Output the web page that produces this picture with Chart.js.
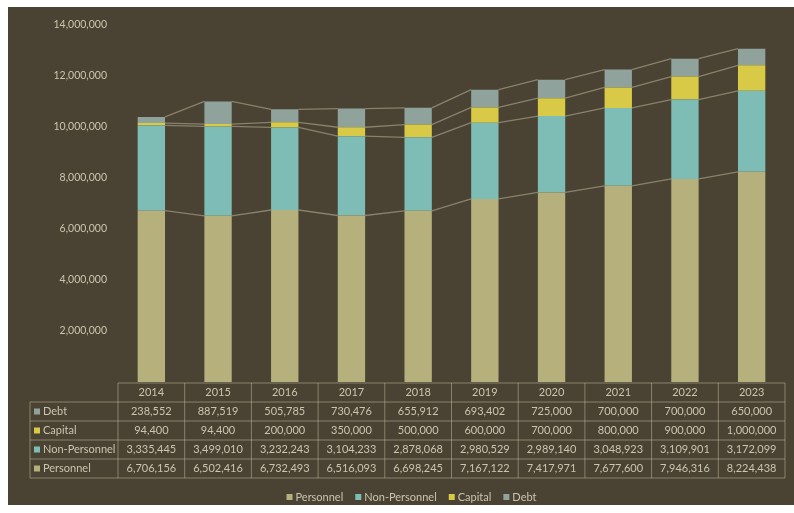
<!DOCTYPE html>
<html lang="en">
<head>
<meta charset="UTF-8">
<title>Budget</title>
<script src="https://cdn.jsdelivr.net/npm/chart.js"></script>
<style>
  html, body { margin: 0; padding: 0; background: #ffffff; }
  .quadro {
    position: absolute; left: 8px; top: 7px; width: 786px; height: 498px;
    background: #4a4333;
  }
</style>
</head>
<body>
<div class="quadro">
  <canvas id="myChart" width="786" height="498"></canvas>
</div>

<script>
var anos = ['2014', '2015', '2016', '2017', '2018', '2019', '2020', '2021', '2022', '2023'];
var personnel = [6706156, 6502416, 6732493, 6516093, 6698245, 7167122, 7417971, 7677600, 7946316, 8224438];
var nonPersonnel = [3335445, 3499010, 3232243, 3104233, 2878068, 2980529, 2989140, 3048923, 3109901, 3172099];
var capital = [94400, 94400, 200000, 350000, 500000, 600000, 700000, 800000, 900000, 1000000];
var debt = [238552, 887519, 505785, 730476, 655912, 693402, 725000, 700000, 700000, 650000];
var nomesSeries = ['Personnel', 'Non-Personnel', 'Capital', 'Debt'];
var coresSeries = ['#b6b17c', '#7dbdb5', '#d8ca46', '#8fa39c'];

var corTexto = '#c9c5ae';
var corLinha = 'rgba(200,192,165,0.5)';
var fonte = 'Lato, "Liberation Sans", sans-serif';

// linhas de serie entre as barras (topo de cada segmento)
const linhasSerie = {
    id: 'linhasSerie',
    afterDatasetsDraw(chart) {
        const ctx = chart.ctx;
        ctx.save();
        ctx.strokeStyle = corLinha;
        ctx.lineWidth = 1.3;
        chart.data.datasets.forEach(function (ds, d) {
            const meta = chart.getDatasetMeta(d);
            for (let i = 0; i < meta.data.length - 1; i++) {
                const a = meta.data[i], b = meta.data[i + 1];
                ctx.beginPath();
                ctx.moveTo(a.x + a.width / 2, a.y);
                ctx.lineTo(b.x - b.width / 2, b.y);
                ctx.stroke();
            }
        });
        ctx.restore();
    }
};

// tabela de dados + legenda embaixo
const tabelaDados = {
    id: 'tabelaDados',
    afterDraw(chart) {
        const ctx = chart.ctx;
        const xs = chart.scales.x;
        const area = chart.chartArea;
        const larg = (area.right - area.left) / anos.length;
        const topo = area.bottom + 1;
        const alt = 19;
        const esq = 22;
        const linhas = [debt, capital, nonPersonnel, personnel];
        const nomes = ['Debt', 'Capital', 'Non-Personnel', 'Personnel'];
        const cores = [coresSeries[3], coresSeries[2], coresSeries[1], coresSeries[0]];

        ctx.save();
        ctx.strokeStyle = corLinha;
        ctx.lineWidth = 1;
        // linhas horizontais
        ctx.beginPath();
        ctx.moveTo(area.left, topo); ctx.lineTo(area.right, topo);
        for (let r = 1; r <= 5; r++) {
            ctx.moveTo(esq, topo + r * alt); ctx.lineTo(area.right, topo + r * alt);
        }
        // linhas verticais
        ctx.moveTo(esq, topo + alt); ctx.lineTo(esq, topo + 5 * alt);
        for (let c = 0; c <= anos.length; c++) {
            const x = area.left + c * larg;
            ctx.moveTo(x, topo); ctx.lineTo(x, topo + 5 * alt);
        }
        ctx.stroke();

        ctx.font = '11px ' + fonte;
        ctx.fillStyle = corTexto;
        ctx.textBaseline = 'middle';
        ctx.textAlign = 'center';
        for (let i = 0; i < anos.length; i++) {
            ctx.fillText(anos[i], xs.getPixelForValue(i), topo + alt / 2);
        }
        for (let r = 0; r < linhas.length; r++) {
            const y = topo + (r + 1) * alt + alt / 2;
            ctx.fillStyle = cores[r];
            ctx.fillRect(esq + 4, y - 3, 6, 6);
            ctx.fillStyle = corTexto;
            ctx.textAlign = 'left';
            ctx.fillText(nomes[r], esq + 13, y);
            ctx.textAlign = 'center';
            for (let i = 0; i < anos.length; i++) {
                ctx.fillText(linhas[r][i].toLocaleString('en-US'), xs.getPixelForValue(i), y);
            }
        }

        // legenda
        const yLeg = 490;
        let largTotal = 0;
        const largItens = nomesSeries.map(function (n) {
            const w = 9 + ctx.measureText(n).width;
            largTotal += w;
            return w;
        });
        largTotal += 12 * (nomesSeries.length - 1);
        let x = (area.left + area.right) / 2 - largTotal / 2 - 40;
        ctx.textAlign = 'left';
        for (let k = 0; k < nomesSeries.length; k++) {
            ctx.fillStyle = coresSeries[k];
            ctx.fillRect(x, yLeg - 3, 6, 6);
            ctx.fillStyle = corTexto;
            ctx.fillText(nomesSeries[k], x + 9, yLeg);
            x += largItens[k] + 12;
        }
        ctx.restore();
    }
};

let dados = {
    labels: anos,
    datasets: [personnel, nonPersonnel, capital, debt].map(function (serie, k) {
        return {
            label: nomesSeries[k],
            data: serie,
            backgroundColor: coresSeries[k],
            borderWidth: 0,
            barPercentage: 0.41,
            categoryPercentage: 1
        };
    })
};

const config = {
    type: 'bar',
    data: dados,
    options: {
        responsive: false,
        animation: false,
        layout: { padding: { top: 16, right: 9, left: 0, bottom: 0 } },
        plugins: {
            legend: { display: false },
            tooltip: { enabled: false }
        },
        scales: {
            x: {
                stacked: true,
                grid: { display: false },
                border: { display: false },
                ticks: { display: false },
                afterFit: function (scale) { scale.height = 123; }
            },
            y: {
                stacked: true,
                min: 0,
                max: 14000000,
                grid: { display: false, drawTicks: false },
                border: { display: false },
                ticks: {
                    stepSize: 2000000,
                    padding: 11,
                    color: corTexto,
                    font: { family: fonte, size: 10.5 },
                    callback: function (v) { return v === 0 ? '' : v.toLocaleString('en-US'); }
                },
                afterFit: function (scale) { scale.width = 110; }
            }
        }
    },
    plugins: [linhasSerie, tabelaDados]
};

let myChart = new Chart(document.getElementById('myChart'), config);
</script>
</body>
</html>
